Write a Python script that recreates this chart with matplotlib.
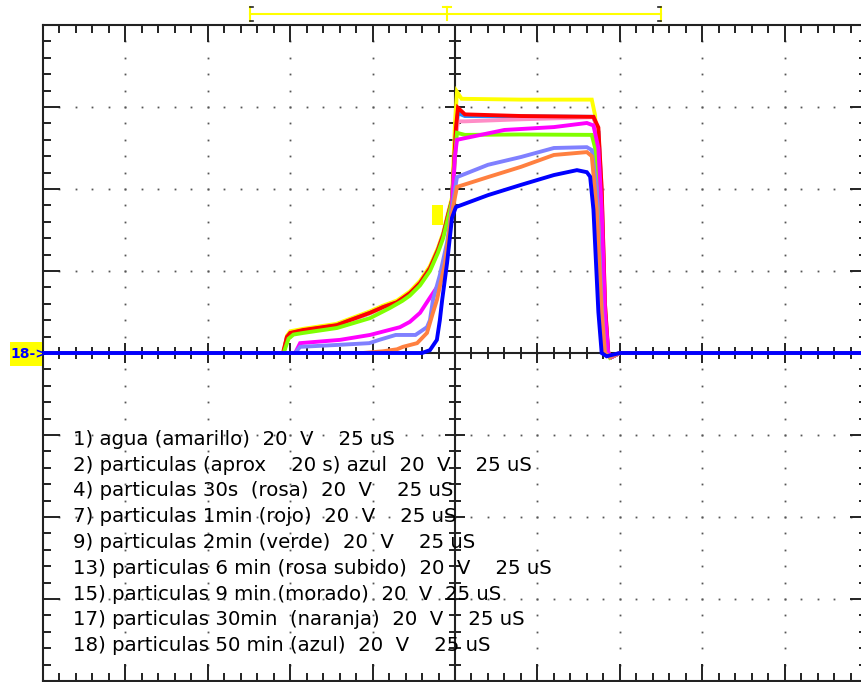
import numpy as np
import matplotlib
matplotlib.use("Agg")
import matplotlib.pyplot as plt
from matplotlib.lines import Line2D
from matplotlib.patches import Rectangle

# ---------------- data (time in microseconds, voltage in volts) ----------------
yellow_t = [-125, -52, -51, -50, -46, -36, -32, -26, -22, -17.6, -13.7, -10.6, -7.6, -5.2, -3.6, -2.1, -0.9, 0.0, 0.6, 2, 20, 41.5, 42.5, 43.5, 45, 46, 47.5, 50, 125]
yellow_v = [0, 0, 4.2, 5.3, 5.9, 7.1, 8.3, 10.1, 11.5, 12.8, 15.0, 17.6, 21.2, 25.6, 29.3, 34.2, 38, 56, 63.7, 62.0, 61.8, 61.8, 58, 40, 10, 0, -1, 0, 0]

lblue_t = [-125, -52, -51, -50, -46, -36, -32, -26, -22, -17.6, -13.7, -10.6, -7.6, -5.2, -3.6, -2.1, -0.9, 0.3, 0.9, 3, 20, 42, 43.5, 44.5, 45.5, 46.5, 47.5, 50, 125]
lblue_v = [0, 0, 3.8, 4.8, 5.5, 6.7, 7.9, 9.7, 11.1, 12.3, 14.5, 17.0, 20.6, 25.0, 28.7, 33.6, 37.2, 54, 58.5, 57.8, 57.7, 57.6, 54, 38, 10, 0, -1, 0, 0]

pink_t = [-125, -52, -51, -50, -46, -36, -32, -26, -22, -17.6, -13.7, -10.6, -7.6, -5.2, -3.6, -2.1, -0.9, 0.3, 0.9, 3, 20, 42, 43.5, 44.5, 45.5, 46.5, 47.5, 50, 125]
pink_v = [0, 0, 3.7, 4.7, 5.4, 6.6, 7.8, 9.6, 11.0, 12.2, 14.4, 16.9, 20.5, 24.9, 28.6, 33.5, 37.0, 53, 56.5, 56.5, 57.0, 57.5, 54, 40, 12, 0, -1, 0, 0]

red_t = [-125, -52.2, -51, -50, -46.1, -35.8, -31.9, -25.8, -21.8, -17.6, -13.7, -10.6, -7.6, -5.2, -3.6, -2.1, -0.9, 0.3, 0.9, 3, 20, 42, 43.5, 44.5, 45.5, 46.5, 47.5, 50, 125]
red_v = [0, 0, 3.9, 4.9, 5.6, 6.8, 8.0, 9.8, 11.2, 12.4, 14.6, 17.1, 20.7, 25.1, 28.8, 33.7, 37.3, 55, 59.8, 58.2, 57.8, 57.6, 55, 40, 12, 0, -1, 0, 0]

green_t = [-125, -52, -50.5, -49, -46, -35.8, -25.8, -19.7, -16, -13.7, -10.6, -7.6, -5.2, -3.6, -2.1, -0.9, 0.0, 0.6, 3, 20, 41.5, 42.5, 43.5, 45, 46, 47, 50, 125]
green_v = [0, 0, 3.5, 4.5, 4.9, 6.1, 8.5, 11.0, 12.7, 14.0, 16.5, 20.0, 24.4, 28.0, 33.0, 37.0, 48, 53.7, 53.2, 53.3, 53.2, 50, 35, 8, 0, -1.2, 0, 0]

magenta_t = [-125, -48.5, -47, -34.9, -25.8, -16.7, -13.7, -10.6, -8.5, -7.6, -4.6, -2.4, -0.9, 0.0, 0.6, 15, 30, 40, 42, 43.5, 44.5, 45.5, 46.5, 47.5, 50, 125]
magenta_v = [0, 0, 2.4, 3.2, 4.4, 6.3, 7.6, 9.8, 12.4, 13.5, 17.1, 23.9, 36.1, 48, 52.0, 54.4, 55.1, 56.1, 55.5, 50, 35, 10, 0, -1, 0, 0]

lav_t = [-125, -48.5, -47, -35, -26, -23, -18, -12, -8.5, -7.6, -6.7, -4.6, -2.4, -0.9, 0, 0.6, 10, 20, 30, 40, 41.5, 43, 44.5, 45.5, 47, 50, 125]
lav_v = [0, 0, 1.5, 2.0, 2.4, 3.2, 4.4, 4.4, 6.3, 8.0, 12.9, 19, 27, 35, 40, 42.9, 45.9, 47.8, 50.0, 50.2, 49.5, 40, 12, 0, -1, 0, 0]

orange_t = [-125, -28, -22, -17.6, -15.8, -11.5, -8.5, -6.7, -5.5, -3, -1.2, 0, 0.6, 10, 20, 30, 40, 41.5, 43, 44.5, 45.5, 47, 50, 125]
orange_v = [0, 0, 0.4, 0.9, 1.5, 2.4, 4.9, 9.8, 12.9, 22, 33, 38, 40.5, 42.9, 45.4, 48.3, 49.0, 48, 35, 10, 0, -1, 0, 0]

blue_t = [-125, -10, -7.6, -5.5, -4.6, -3.9, -2.4, -0.9, 0, 0.3, 10, 20, 30, 37, 40, 41, 42, 43.5, 44.5, 46, 50, 125]
blue_v = [0, 0, 0.7, 3.2, 8.0, 12.9, 22, 33, 35, 35.6, 38.5, 41.0, 43.4, 44.6, 44.1, 43, 35, 10, 0, -0.8, 0, 0]

labels = [
    "1) agua (amarillo)  20  V    25 uS",
    "2) particulas (aprox    20 s) azul  20  V    25 uS",
    "4) particulas 30s  (rosa)  20  V    25 uS",
    "7) particulas 1min (rojo)  20  V    25 uS",
    "9) particulas 2min (verde)  20  V    25 uS",
    "13) particulas 6 min (rosa subido)  20  V    25 uS",
    "15) particulas 9 min (morado)  20  V  25 uS",
    "17) particulas 30min  (naranja)  20  V    25 uS",
    "18) particulas 50 min (azul)  20  V    25 uS",
]

series = [
    (yellow_t, yellow_v, "#ffff00"),
    (lblue_t, lblue_v, "#1e90ff"),
    (pink_t, pink_v, "#ff8cc6"),
    (red_t, red_v, "#ff0000"),
    (green_t, green_v, "#80ff00"),
    (magenta_t, magenta_v, "#ff00ff"),
    (lav_t, lav_v, "#8080ff"),
    (orange_t, orange_v, "#ff8040"),
    (blue_t, blue_v, "#0000ff"),
]

# ---------------- figure ----------------
W, H = 861, 682
fig = plt.figure(figsize=(W / 100, H / 100), dpi=100)
fig.patch.set_facecolor("white")

def fx(px):
    return px / W

def fy(py):
    return (H - py) / H

ax_left, ax_right, ax_top, ax_bot = 43, 867, 25, 681
ax = fig.add_axes([fx(ax_left), fy(ax_bot), (ax_right - ax_left) / W, (ax_bot - ax_top) / H])
ax.set_xlim(-125, 125)
ax.set_ylim(-80, 80)
ax.set_facecolor("white")

frame_col = "#222222"
for s in ax.spines.values():
    s.set_linewidth(1.5)
    s.set_color(frame_col)

ax.set_xticks(np.arange(-125, 126, 25))
ax.set_xticks(np.arange(-125, 126, 5), minor=True)
ax.set_yticks(np.arange(-80, 81, 20))
ax.set_yticks(np.arange(-80, 81, 4), minor=True)
ax.tick_params(which="both", direction="in", top=True, right=True,
               labelbottom=False, labelleft=False, color=frame_col, width=1.4)
ax.tick_params(which="major", length=12.2)
ax.tick_params(which="minor", length=5.8)

# dotted graticule
dot_kw = dict(linestyle="none", marker="s", markersize=1.3, color="#555555",
              markeredgewidth=0, zorder=1)
vy = np.arange(-76, 77, 4)
for tx in [-100, -75, -50, -25, 25, 50, 75, 100]:
    ax.plot(np.full_like(vy, tx, dtype=float), vy, **dot_kw)
ht = np.arange(-120, 121, 5)
for vv in [-60, -40, -20, 20, 40, 60]:
    ax.plot(ht, np.full_like(ht, vv, dtype=float), **dot_kw)

# centre cross-hair with tick marks
ax.axhline(0, color=frame_col, lw=1.5, zorder=2)
ax.axvline(0, color=frame_col, lw=1.5, zorder=2)
tmin = [t for t in np.arange(-120, 121, 5) if t % 25 != 0]
tmaj = [t for t in np.arange(-100, 101, 25)]
ax.plot(tmin, np.zeros(len(tmin)), linestyle="none", marker="|", markersize=8.6,
        markeredgewidth=1.4, color=frame_col, zorder=2)
ax.plot(tmaj, np.zeros(len(tmaj)), linestyle="none", marker="|", markersize=14.4,
        markeredgewidth=1.4, color=frame_col, zorder=2)
vmin = [v for v in np.arange(-76, 77, 4) if v % 20 != 0]
vmaj = [v for v in np.arange(-60, 61, 20)]
ax.plot(np.zeros(len(vmin)), vmin, linestyle="none", marker="_", markersize=8.6,
        markeredgewidth=1.4, color=frame_col, zorder=2)
ax.plot(np.zeros(len(vmaj)), vmaj, linestyle="none", marker="_", markersize=14.4,
        markeredgewidth=1.4, color=frame_col, zorder=2)

# trigger marker (yellow box)
ax.add_patch(Rectangle((-7.0, 31.2), 3.4, 4.9, facecolor="#ffff00", edgecolor="none", zorder=2.5))

# traces
for t, v, c in series:
    ax.plot(t, v, color=c, lw=2.8, zorder=3, solid_joinstyle="miter")

# annotation text
y0 = -22.4
dy = -6.29
for i, lab in enumerate(labels):
    ax.text(-115.9, y0 + i * dy, lab, fontsize=14.2, family="DejaVu Sans",
            color="black", ha="left", va="baseline", zorder=4)

# channel marker at left
fig.patches.append(Rectangle((fx(10), fy(366)), fx(42) - fx(10), fy(342) - fy(366),
                             transform=fig.transFigure, facecolor="#ffff00",
                             edgecolor="none", figure=fig))
fig.text(fx(10), fy(354), "18->", color="#0000ff", fontsize=10, fontweight="bold",
         family="DejaVu Sans", ha="left", va="center", zorder=10)

# top horizontal-position bar
bar_y = fy(14)
ycol = "#ffff00"
fig.add_artist(Line2D([fx(250), fx(661)], [bar_y, bar_y], color=ycol, lw=1.5,
                      transform=fig.transFigure))
for xe in (250, 661):
    fig.add_artist(Line2D([fx(xe), fx(xe)], [fy(7), fy(21)], color=ycol, lw=1.5,
                          transform=fig.transFigure))
fig.add_artist(Line2D([fx(250), fx(253)], [fy(7), fy(7)], color="#222222", lw=1.2,
                      transform=fig.transFigure))
fig.add_artist(Line2D([fx(250), fx(253)], [fy(21), fy(21)], color="#222222", lw=1.2,
                      transform=fig.transFigure))
fig.add_artist(Line2D([fx(658), fx(661)], [fy(7), fy(7)], color="#222222", lw=1.2,
                      transform=fig.transFigure))
fig.add_artist(Line2D([fx(658), fx(661)], [fy(21), fy(21)], color="#222222", lw=1.2,
                      transform=fig.transFigure))
fig.add_artist(Line2D([fx(447), fx(447)], [fy(7), fy(20)], color=ycol, lw=1.5,
                      transform=fig.transFigure))
fig.add_artist(Line2D([fx(443), fx(451)], [fy(7), fy(7)], color=ycol, lw=1.5,
                      transform=fig.transFigure))

fig.savefig("out.png", dpi=100, facecolor="white")
